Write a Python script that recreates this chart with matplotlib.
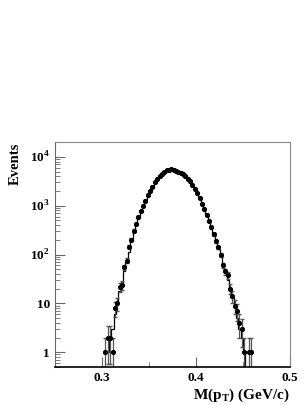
import numpy as np
import matplotlib
matplotlib.use("Agg")
import matplotlib.pyplot as plt
from matplotlib.ticker import FixedLocator, FixedFormatter, LogLocator, NullFormatter, MultipleLocator

plt.rcParams['font.family'] = ['Liberation Serif', 'DejaVu Serif']
plt.rcParams['mathtext.fontset'] = 'custom'
plt.rcParams['mathtext.rm'] = 'Liberation Serif:bold'
plt.rcParams['mathtext.bf'] = 'Liberation Serif:bold'

# bin edges of the histogram (GeV/c)
bin_lo = 0.3025
bin_width = 0.0025

# measured events per bin
data = [1, 2, 2, 1, 8, 10, 22, 24, 55, 75,
        145, 200, 310, 430, 580, 780, 1000, 1250, 1650, 2000,
        2450, 3000, 3500, 4000, 4500, 4950, 5300, 5500, 5550, 5450,
        5250, 5000, 4750, 4450, 4000, 3550, 3150, 2700, 2200, 1800,
        1420, 1100, 850, 650, 480, 370, 260, 185, 140, 100,
        60, 45, 38, 20, 14, 9, 7, 4, 3, 1,
        0, 1, 1]

# simulated events per bin
mc = [1, 1, 2, 3, 6, 11, 18, 28, 45, 70,
      115, 185, 290, 420, 570, 770, 1010, 1280, 1620, 2010,
      2460, 2960, 3480, 3990, 4470, 4900, 5250, 5480, 5560, 5470,
      5270, 5000, 4720, 4420, 4030, 3580, 3120, 2680, 2230, 1810,
      1430, 1110, 850, 640, 470, 355, 255, 180, 130, 92,
      62, 42, 30, 20, 13, 8, 5, 3, 2, 1,
      0.1, 0.1, 0.1]

y_ticks = [1, 10, 100, 1000, 10000]
y_ticklabels = ['1', '10', r'$10^{2}$', r'$10^{3}$', r'$10^{4}$']
x_ticks = [0.3, 0.4, 0.5]
x_ticklabels = ['0.3', '0.4', '0.5']

data = np.array(data, dtype=float)
mc = np.array(mc, dtype=float)
edges = bin_lo + bin_width * np.arange(len(mc) + 1)
centers = 0.5 * (edges[:-1] + edges[1:])

fig = plt.figure(figsize=(3.05, 4.05), dpi=100)
ax = fig.add_axes([0.180, 0.094, 0.771, 0.555])

ax.stairs(mc, edges, color='black', linewidth=0.9, baseline=None)

m = data > 0
ax.errorbar(centers[m], data[m], yerr=np.sqrt(data[m]), fmt='o', color='black',
            ecolor='#555555', elinewidth=0.9, capsize=1.5, markersize=2.7)

ax.set_yscale('log')
ax.set_xlim(0.25, 0.5)
ax.set_ylim(0.5, 2e4)

ax.yaxis.set_major_locator(FixedLocator(y_ticks))
ax.yaxis.set_major_formatter(FixedFormatter(y_ticklabels))
ax.yaxis.set_minor_locator(LogLocator(base=10, subs=np.arange(2, 10)))
ax.yaxis.set_minor_formatter(NullFormatter())
ax.xaxis.set_major_locator(FixedLocator(x_ticks))
ax.xaxis.set_major_formatter(FixedFormatter(x_ticklabels))
ax.xaxis.set_minor_locator(MultipleLocator(0.05))

ax.tick_params(which='both', direction='in', top=False, right=False,
               color='#666666')
ax.tick_params(which='major', length=7, labelsize=9.5)
ax.tick_params(which='minor', length=3.5)
for lab in ax.get_xticklabels() + ax.get_yticklabels():
    lab.set_fontweight('bold')

for side in ['top', 'right']:
    ax.spines[side].set_color('#888888')
    ax.spines[side].set_linewidth(0.8)
ax.spines['left'].set_color('#666666')
ax.spines['bottom'].set_color('black')
ax.spines['bottom'].set_linewidth(1.2)

ax.set_ylabel('Events', fontsize=10.5, fontweight='bold', loc='top', labelpad=6)
ax.set_xlabel(r'M(p$_{\mathrm{T}}$) (GeV/c)', fontsize=11, fontweight='bold',
              loc='right', labelpad=2)

fig.savefig('out.png', dpi=100)
